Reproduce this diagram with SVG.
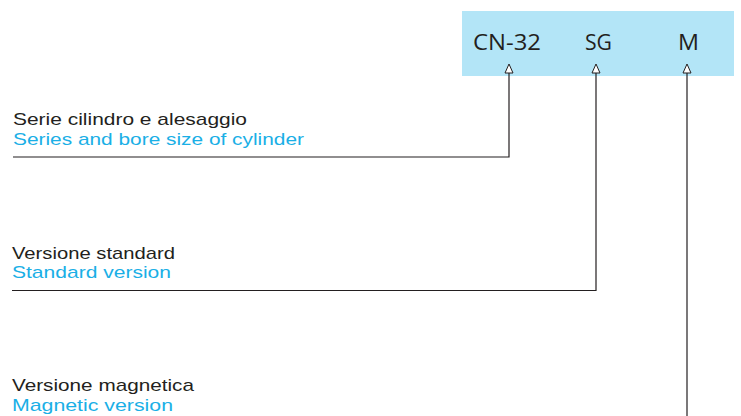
<svg xmlns="http://www.w3.org/2000/svg" width="741" height="416" viewBox="0 0 741 416">
<defs>
<style>
.lbl{font-family:"Liberation Sans",Arial,sans-serif;font-size:17px;}
.it{fill:#231f20;}
.en{fill:#1aafe6;}
.code{font-family:"Open Sans","Liberation Sans",sans-serif;font-size:22px;fill:#231f20;}
.ln{fill:none;stroke:#231f20;stroke-width:1.2;}
.tri{fill:#fff;stroke:#231f20;stroke-width:1;}
</style>
</defs>
<g id="code-box">
<rect x="462" y="11" width="272" height="65" fill="#b3e5f7"/>
<text class="code" x="473" y="49.5" textLength="68" lengthAdjust="spacingAndGlyphs">CN-32</text>
<text class="code" x="585" y="49.5" textLength="27" lengthAdjust="spacingAndGlyphs">SG</text>
<text class="code" x="678" y="49.5" textLength="21" lengthAdjust="spacingAndGlyphs">M</text>
</g>
<g id="label-series">
<text class="lbl it" x="13" y="125" textLength="234" lengthAdjust="spacingAndGlyphs">Serie cilindro e alesaggio</text>
<text class="lbl en" x="13" y="144.5" textLength="291" lengthAdjust="spacingAndGlyphs">Series and bore size of cylinder</text>
</g>
<g id="label-standard">
<text class="lbl it" x="12" y="258.5" textLength="163" lengthAdjust="spacingAndGlyphs">Versione standard</text>
<text class="lbl en" x="12" y="278" textLength="159" lengthAdjust="spacingAndGlyphs">Standard version</text>
</g>
<g id="label-magnetic">
<text class="lbl it" x="12" y="391" textLength="182" lengthAdjust="spacingAndGlyphs">Versione magnetica</text>
<text class="lbl en" x="12" y="410.5" textLength="161" lengthAdjust="spacingAndGlyphs">Magnetic version</text>
</g>
<g id="connectors">
<polyline class="ln" points="13,157 509,157 509,73"/>
<polyline class="ln" points="12,290.5 596,290.5 596,73"/>
<polyline class="ln" points="687,416 687,73"/>
<polygon class="tri" points="509,64 505,73 513,73"/>
<polygon class="tri" points="596,64 592,73 600,73"/>
<polygon class="tri" points="687,64 683,73 691,73"/>
</g>
</svg>
